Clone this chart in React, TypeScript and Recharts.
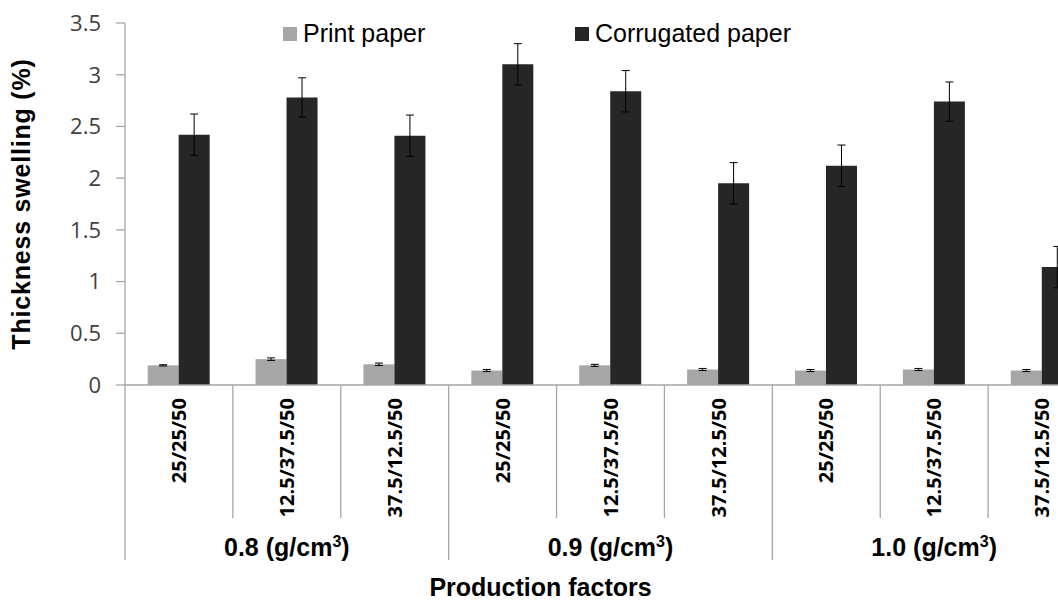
import { BarChart, Bar, XAxis, YAxis, ErrorBar, Legend, Label } from 'recharts'

const categories = [
  '25/25/50', '12.5/37.5/50', '37.5/12.5/50',
  '25/25/50', '12.5/37.5/50', '37.5/12.5/50',
  '25/25/50', '12.5/37.5/50', '37.5/12.5/50',
]
const densities = ['0.8', '0.9', '1.0']
const printPaper = [0.19, 0.25, 0.2, 0.14, 0.19, 0.15, 0.14, 0.15, 0.14]
const printErr = [0.006, 0.012, 0.012, 0.01, 0.01, 0.01, 0.01, 0.01, 0.01]
const corrugated = [2.42, 2.78, 2.41, 3.1, 2.84, 1.95, 2.12, 2.74, 1.14]
const corrugatedErr = [0.2, 0.19, 0.2, 0.2, 0.2, 0.2, 0.2, 0.19, 0.2]
const yTicks = [0, 0.5, 1, 1.5, 2, 2.5, 3, 3.5]
// integer = category boundary, .5 = category centre
const sepTicks = [0, 0.5, 1, 1.5, 2, 2.5, 3, 3.5, 4, 4.5, 5, 5.5, 6, 6.5, 7, 7.5, 8, 8.5, 9]

const data = categories.map((label, i) => ({
  label,
  pos: i + 0.5,
  print: printPaper[i],
  printErr: printErr[i],
  corrugated: corrugated[i],
  corrugatedErr: corrugatedErr[i],
}))

const GRID = '#a6a6a6'
const ARIAL = '"Liberation Sans", Arial, sans-serif'
const TICK_FONT = '"Open Sans", sans-serif'

function SepTick(props: any) {
  const { x, y, payload } = props
  const v = payload.value as number
  if (Number.isInteger(v)) {
    const long = v % 3 === 0
    return <line x1={x} x2={x} y1={y} y2={y + (long ? 175 : 133)} stroke={GRID} strokeWidth={1.3} />
  }
  const i = Math.floor(v)
  const ty = y + 13
  return (
    <g>
      <text
        x={x}
        y={ty}
        dy="0.36em"
        transform={`rotate(-90, ${x}, ${ty})`}
        textAnchor="end"
        fontFamily={TICK_FONT}
        fontWeight={700}
        fontSize={20}
        fill="#000"
      >
        {categories[i]}
      </text>
      {i % 3 === 1 && (
        <text x={x} y={y + 171} textAnchor="middle" fontFamily={ARIAL} fontWeight={700} fontSize={25} fill="#000">
          {densities[Math.floor(i / 3)]} (g/cm
          <tspan fontSize={16} dy={-9}>3</tspan>
          <tspan dy={9}>)</tspan>
        </text>
      )}
    </g>
  )
}

function LegendBox() {
  const items = [
    { name: 'Print paper', color: '#a6a6a6', w: 292 },
    { name: 'Corrugated paper', color: '#262626', w: 260 },
  ]
  return (
    <div style={{ display: 'flex', fontFamily: ARIAL, fontSize: 25, lineHeight: '25px', color: '#000' }}>
      {items.map((it) => (
        <div key={it.name} style={{ display: 'flex', alignItems: 'center', width: it.w }}>
          <span style={{ display: 'inline-block', width: 14, height: 14, background: it.color, marginRight: 6 }} />
          <span>{it.name}</span>
        </div>
      ))}
    </div>
  )
}

export default function App() {
  return (
    <div style={{ position: 'absolute', left: 0, top: 0, width: 1058, height: 603, overflow: 'hidden', background: '#fff' }}>
      <BarChart
        width={1120}
        height={603}
        data={data}
        margin={{ top: 23, right: 24, left: 0, bottom: 43 }}
        barCategoryGap="21%"
        barGap={0}
      >
        <XAxis xAxisId="cat" dataKey="label" hide height={0} />
        <XAxis
          xAxisId="num"
          type="number"
          dataKey="pos"
          domain={[0, 9]}
          allowDataOverflow
          ticks={sepTicks}
          interval={0}
          height={175}
          tickSize={0}
          tickMargin={0}
          tickLine={false}
          axisLine={{ stroke: GRID, strokeWidth: 1.3 }}
          tick={<SepTick />}
        >
          <Label
            content={({ viewBox }: any) => (
              <text
                x={viewBox.x + viewBox.width / 2 - 70}
                y={viewBox.y + viewBox.height + 36}
                textAnchor="middle"
                fontFamily={ARIAL}
                fontWeight={700}
                fontSize={25}
                fill="#000"
              >
                Production factors
              </text>
            )}
          />
        </XAxis>
        <YAxis
          width={125}
          domain={[0, 3.5]}
          ticks={yTicks}
          interval={0}
          tickSize={9}
          tickMargin={15}
          axisLine={{ stroke: GRID, strokeWidth: 1.3 }}
          tickLine={{ stroke: GRID, strokeWidth: 1.3 }}
          tick={{ fontFamily: TICK_FONT, fontSize: 22, fill: '#404040' }}
        >
          <Label
            content={({ viewBox }: any) => {
              const cx = 30
              const cy = viewBox.y + viewBox.height / 2
              return (
                <text
                  x={cx}
                  y={cy}
                  transform={`rotate(-90, ${cx}, ${cy})`}
                  textAnchor="middle"
                  fontFamily={ARIAL}
                  fontWeight={700}
                  fontSize={25}
                  letterSpacing={0.8}
                  fill="#000"
                >
                  Thickness swelling (%)
                </text>
              )
            }}
          />
        </YAxis>
        <Legend
          layout="horizontal"
          verticalAlign="middle"
          align="center"
          content={<LegendBox />}
          wrapperStyle={{ top: 21, left: 283, width: 600, height: 28 }}
        />
        <Bar xAxisId="cat" dataKey="print" name="Print paper" fill="#a6a6a6" isAnimationActive={false}>
          <ErrorBar dataKey="printErr" width={4} stroke="#000" strokeWidth={1} />
        </Bar>
        <Bar xAxisId="cat" dataKey="corrugated" name="Corrugated paper" fill="#262626" isAnimationActive={false}>
          <ErrorBar dataKey="corrugatedErr" width={4} stroke="#000" strokeWidth={1} />
        </Bar>
      </BarChart>
    </div>
  )
}
